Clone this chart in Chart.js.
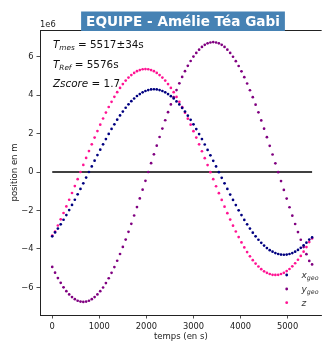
<!DOCTYPE html>
<html>
<head>
<meta charset="utf-8">
<script src="https://cdn.jsdelivr.net/npm/chart.js@4.4.1/dist/chart.umd.min.js"></script>
<style>
  html, body { margin: 0; padding: 0; background: #fff; }
  #wrap { width: 323px; height: 342px; position: relative; }
</style>
</head>
<body>
<div id="wrap"><canvas id="orbitChart"></canvas></div>
<script>
// time (s) and positions (units of 1e6 m)
const times = [0,60,120,180,240,300,360,420,480,540,600,660,720,780,840,900,960,1020,1080,1140,1200,1260,1320,1380,1440,1500,1560,1620,1680,1740,1800,1860,1920,1980,2040,2100,2160,2220,2280,2340,2400,2460,2520,2580,2640,2700,2760,2820,2880,2940,3000,3060,3120,3180,3240,3300,3360,3420,3480,3540,3600,3660,3720,3780,3840,3900,3960,4020,4080,4140,4200,4260,4320,4380,4440,4500,4560,4620,4680,4740,4800,4860,4920,4980,5040,5100,5160,5220,5280,5340,5400,5460,5520];

const xGeo = [-3.34,-3.14,-2.94,-2.72,-2.48,-2.24,-1.98,-1.71,-1.44,-1.16,-0.88,-0.59,-0.29,0,
  0.29,0.59,0.88,1.16,1.44,1.71,1.98,2.24,2.48,2.72,2.94,3.14,3.34,3.52,3.68,3.82,3.95,4.05,4.14,4.21,
  4.26,4.29,4.30,4.29,4.26,4.21,4.14,4.05,3.94,3.82,3.67,3.51,3.33,3.14,2.93,2.71,2.48,2.23,1.97,1.71,
  1.43,1.15,0.87,0.58,0.29,-0.01,-0.30,-0.59,-0.88,-1.17,-1.45,-1.72,-1.99,-2.24,-2.49,-2.72,-2.94,-3.15,-3.34,-3.52,
  -3.68,-3.82,-3.95,-4.06,-4.14,-4.21,-4.26,-4.29,-4.30,-4.29,-4.26,-4.21,-4.14,-4.05,-3.94,-3.81,-3.67,-3.51,-3.40];

const yGeo = [-4.93,-5.23,-5.51,-5.76,-5.99,-6.19,-6.36,-6.50,-6.61,-6.69,-6.73,-6.75,-6.73,-6.69,-6.61,-6.50,-6.36,-6.19,-6.00,-5.77,
  -5.52,-5.24,-4.94,-4.61,-4.26,-3.89,-3.51,-3.11,-2.69,-2.26,-1.82,-1.37,-0.92,-0.46,0,
  0.46,0.92,1.37,1.82,2.26,2.69,3.11,3.51,3.89,4.26,4.61,4.94,5.24,5.52,5.77,6.00,6.19,6.36,6.50,6.61,
  6.69,6.73,6.75,6.73,6.69,6.61,6.50,6.36,6.19,5.99,5.76,5.51,5.23,4.93,4.60,4.25,3.89,3.50,3.10,2.68,
  2.25,1.81,1.36,0.91,0.45,-0.01,-0.47,-0.93,-1.38,-1.83,-2.27,-2.70,-3.12,-3.52,-3.90,-4.27,-4.62,-4.80];

const zVals = [-3.30,-3.09,-2.78,-2.46,-2.13,-1.79,-1.44,-1.09,-0.73,-0.37,0,0.37,0.73,1.09,1.44,1.79,2.13,2.46,2.78,3.09,
  3.38,3.65,3.91,4.15,4.37,4.57,4.75,4.91,5.04,5.15,5.24,5.30,5.34,5.35,5.34,5.30,5.24,5.15,5.04,4.91,
  4.75,4.57,4.37,4.15,3.90,3.65,3.37,3.08,2.77,2.46,2.12,1.79,1.44,1.08,0.72,0.36,-0.01,-0.37,-0.74,-1.10,
  -1.45,-1.80,-2.14,-2.47,-2.79,-3.09,-3.38,-3.66,-3.92,-4.16,-4.38,-4.58,-4.76,-4.91,-5.05,-5.16,-5.24,-5.30,-5.34,-5.35,
  -5.34,-5.30,-5.24,-5.15,-5.04,-4.90,-4.74,-4.56,-4.36,-4.14,-3.90,-3.64,-3.45];

const xTicks = [0, 1000, 2000, 3000, 4000, 5000];
const yTicks = [-6, -4, -2, 0, 2, 4, 6];
const seriesNames = ['x', 'y', 'z'];
const seriesColors = ['#000080', '#800080', '#ff1493'];

const titleText = 'EQUIPE - Amélie Téa Gabi';
const tMes = '5517±34s';
const tRef = '5576s';
const zScore = '1.7';

const FONT = '"DejaVu Sans", sans-serif';

function toPoints(vals) {
  return times.map((t, i) => ({ x: t, y: vals[i] }));
}

// draw a run of text pieces (italic / subscript) one after the other
function drawMath(ctx, x, y, runs, size, color) {
  runs.forEach(r => {
    const fs = r.sub ? size * 0.7 : size;
    ctx.font = (r.it ? 'italic ' : '') + fs + 'px ' + FONT;
    ctx.fillStyle = color;
    ctx.fillText(r.t, x, y + (r.sub ? size * 0.22 : 0));
    x += ctx.measureText(r.t).width;
  });
  return x;
}

const decorPlugin = {
  id: 'decor',
  afterDraw(chart) {
    const ctx = chart.ctx;
    const area = chart.chartArea;
    ctx.save();
    ctx.textBaseline = 'alphabetic';
    ctx.textAlign = 'left';

    // top spine
    ctx.strokeStyle = '#222';
    ctx.lineWidth = 1;
    ctx.beginPath();
    ctx.moveTo(area.left, area.top + 0.5);
    ctx.lineTo(area.right, area.top + 0.5);
    ctx.stroke();

    // offset label
    ctx.font = '8.3px ' + FONT;
    ctx.fillStyle = '#222';
    ctx.fillText('1e6', area.left, 27);

    // title box
    ctx.font = 'bold 13.6px ' + FONT;
    const w = ctx.measureText(titleText).width;
    const cx = 183;
    ctx.fillStyle = '#4682b4';
    ctx.fillRect(cx - w / 2 - 5, 11.5, w + 10, 19.5);
    ctx.fillStyle = '#fff';
    ctx.textAlign = 'center';
    ctx.fillText(titleText, cx, 25.5);
    ctx.textAlign = 'left';

    // annotations
    const fs = 10.4;
    drawMath(ctx, 53, 47.5, [{ t: 'T', it: true }, { t: 'mes', it: true, sub: true }, { t: ' = ' + tMes }], fs, '#111');
    drawMath(ctx, 53, 67.5, [{ t: 'T', it: true }, { t: 'Ref', it: true, sub: true }, { t: ' = ' + tRef }], fs, '#111');
    drawMath(ctx, 53, 86.7, [{ t: 'Zscore', it: true }, { t: ' = ' + zScore }], fs, '#111');

    // legend
    const rows = [275, 289, 302.7];
    rows.forEach((ry, i) => {
      ctx.fillStyle = seriesColors[i];
      ctx.beginPath();
      ctx.arc(286.7, ry, 1.4, 0, Math.PI * 2);
      ctx.fill();
      const runs = i < 2
        ? [{ t: seriesNames[i], it: true }, { t: 'geo', it: true, sub: true }]
        : [{ t: seriesNames[i], it: true }];
      drawMath(ctx, 301.5, ry + 2.8, runs, 9, '#333');
    });
    ctx.restore();
  }
};

const pointStyle = color => ({
  pointRadius: 1.35,
  pointHoverRadius: 1.35,
  pointBorderWidth: 0,
  pointBackgroundColor: color,
  borderColor: color,
  backgroundColor: color
});

new Chart(document.getElementById('orbitChart'), {
  type: 'scatter',
  data: {
    datasets: [
      Object.assign({ label: 'x_geo', data: toPoints(xGeo) }, pointStyle(seriesColors[0])),
      Object.assign({ label: 'y_geo', data: toPoints(yGeo) }, pointStyle(seriesColors[1])),
      Object.assign({ label: 'z', data: toPoints(zVals) }, pointStyle(seriesColors[2])),
      {
        type: 'line',
        label: 'zero',
        data: [{ x: times[0], y: 0 }, { x: times[times.length - 1], y: 0 }],
        borderColor: '#000',
        borderWidth: 1.5,
        pointRadius: 0,
        fill: false
      }
    ]
  },
  options: {
    responsive: true,
    maintainAspectRatio: false,
    animation: false,
    layout: { padding: { top: 30, right: 0, left: 0, bottom: 0 } },
    plugins: {
      legend: { display: false },
      tooltip: { enabled: false }
    },
    scales: {
      x: {
        type: 'linear',
        min: -260,
        max: 5723,
        afterBuildTicks: scale => { scale.ticks = xTicks.map(v => ({ value: v })); },
        afterFit: scale => { scale.height = 27; },
        ticks: {
          padding: 3,
          maxRotation: 0,
          color: '#222',
          font: { family: FONT, size: 8.3 },
          callback: v => String(v)
        },
        grid: { drawOnChartArea: false, drawTicks: true, tickLength: 3.5, color: '#222', lineWidth: 0.8 },
        border: { display: true, color: '#222', width: 1 },
        title: {
          display: true,
          text: 'temps (en s)',
          color: '#222',
          font: { family: FONT, size: 8.5 },
          padding: { top: 0, bottom: 0.3 }
        }
      },
      y: {
        type: 'linear',
        min: -7.43,
        max: 7.38,
        afterBuildTicks: scale => { scale.ticks = yTicks.map(v => ({ value: v })); },
        afterFit: scale => { scale.width = 40; },
        ticks: {
          padding: 3,
          color: '#222',
          font: { family: FONT, size: 8.3 },
          callback: v => (v < 0 ? '\u2212' + Math.abs(v) : String(v))
        },
        grid: { drawOnChartArea: false, drawTicks: true, tickLength: 3.5, color: '#222', lineWidth: 0.8 },
        border: { display: true, color: '#222', width: 1 },
        title: {
          display: true,
          text: 'position en m',
          color: '#222',
          font: { family: FONT, size: 8.5 },
          padding: { top: 9.2, bottom: 0 }
        }
      }
    }
  },
  plugins: [decorPlugin]
});
</script>
</body>
</html>
